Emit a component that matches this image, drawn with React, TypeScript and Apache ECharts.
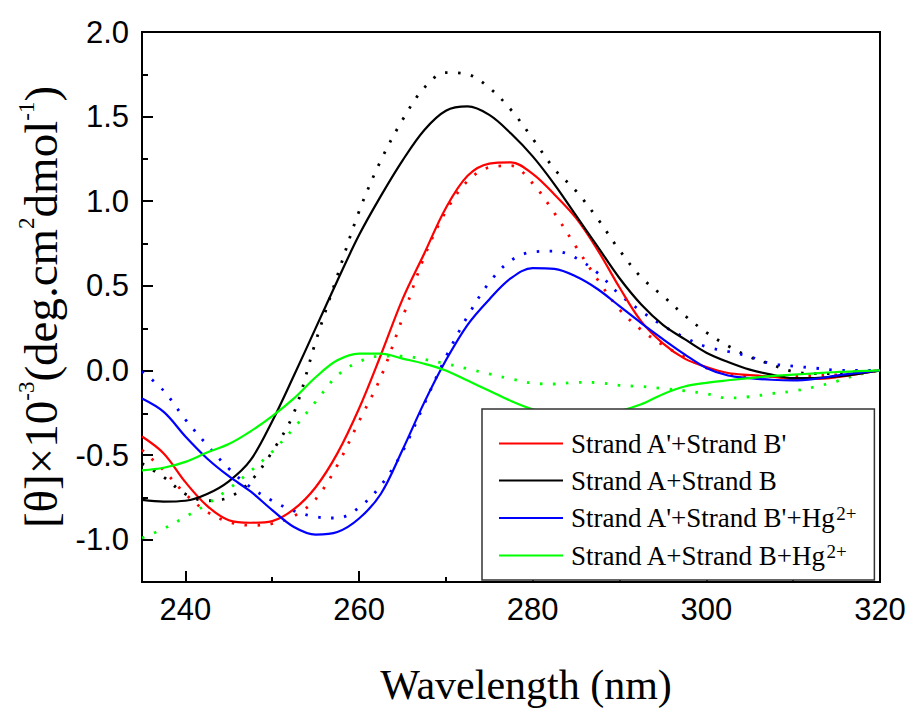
import React, { useEffect, useRef } from "react";
import * as echarts from "echarts";

const wavelengths = [235, 237.5, 240, 242.5, 245, 247.5, 250, 252.5, 255, 257.5, 260, 262.5, 265, 267.5, 270, 272.5, 275, 277.5, 280, 282.5, 285, 287.5, 290, 292.5, 295, 297.5, 300, 302.5, 305, 307.5, 310, 312.5, 315, 317.5, 320];

const redSolid = [-0.39, -0.49, -0.66, -0.8, -0.885, -0.9, -0.89, -0.82, -0.69, -0.49, -0.225, 0.09, 0.42, 0.69, 0.96, 1.15, 1.222, 1.23, 1.162, 1.04, 0.9, 0.71, 0.49, 0.29, 0.16, 0.07, 0.02, -0.015, -0.027, -0.037, -0.05, -0.05, -0.04, -0.02, 0];
const redDotted = [-0.47, -0.59, -0.73, -0.835, -0.895, -0.915, -0.905, -0.86, -0.76, -0.56, -0.3, -0.04, 0.31, 0.67, 0.94, 1.12, 1.2, 1.21, 1.105, 0.93, 0.73, 0.535, 0.36, 0.24, 0.15, 0.08, 0.015, -0.02, -0.032, -0.035, -0.034, -0.03, -0.026, -0.015, 0];
const blackSolid = [-0.765, -0.775, -0.77, -0.73, -0.655, -0.53, -0.3, -0.03, 0.25, 0.53, 0.8, 1.03, 1.24, 1.42, 1.535, 1.56, 1.51, 1.4, 1.265, 1.1, 0.915, 0.73, 0.545, 0.39, 0.27, 0.185, 0.105, 0.05, 0.005, -0.025, -0.045, -0.045, -0.035, -0.02, 0];
const blackDotted = [-0.55, -0.63, -0.73, -0.77, -0.75, -0.655, -0.48, -0.25, 0.17, 0.56, 0.94, 1.24, 1.48, 1.67, 1.76, 1.75, 1.67, 1.54, 1.37, 1.19, 1.06, 0.895, 0.71, 0.55, 0.44, 0.325, 0.225, 0.145, 0.08, 0.035, -0.007, -0.019, -0.017, -0.008, 0];
const blueSolid = [-0.166, -0.245, -0.39, -0.52, -0.625, -0.715, -0.825, -0.925, -0.97, -0.955, -0.875, -0.73, -0.47, -0.19, 0.06, 0.27, 0.42, 0.545, 0.605, 0.6, 0.555, 0.48, 0.38, 0.28, 0.185, 0.095, 0.015, -0.03, -0.045, -0.055, -0.059, -0.05, -0.03, -0.014, 0];
const blueDotted = [-0.005, -0.12, -0.29, -0.44, -0.58, -0.69, -0.77, -0.83, -0.865, -0.872, -0.81, -0.68, -0.48, -0.2, 0.08, 0.32, 0.52, 0.65, 0.7, 0.705, 0.665, 0.575, 0.45, 0.35, 0.265, 0.195, 0.14, 0.112, 0.082, 0.04, 0.026, 0.014, 0.002, 0, 0];
const greenSolid = [-0.59, -0.575, -0.54, -0.485, -0.435, -0.36, -0.27, -0.165, -0.04, 0.06, 0.1, 0.1, 0.07, 0.04, 0.0, -0.06, -0.12, -0.18, -0.23, -0.265, -0.275, -0.265, -0.24, -0.2, -0.14, -0.095, -0.073, -0.058, -0.045, -0.033, -0.025, -0.017, -0.009, -0.004, 0];
const greenDotted = [-0.99, -0.935, -0.865, -0.79, -0.7, -0.595, -0.48, -0.34, -0.185, -0.03, 0.052, 0.085, 0.085, 0.065, 0.04, 0.01, -0.02, -0.05, -0.075, -0.08, -0.07, -0.072, -0.088, -0.095, -0.106, -0.12, -0.138, -0.163, -0.155, -0.137, -0.122, -0.097, -0.064, -0.025, 0];

const xMajorTicks = [240, 260, 280, 300, 320];
const xMinorTicks = [250, 270, 290, 310];
const yMajorTicks = [-1.0, -0.5, 0, 0.5, 1.0, 1.5, 2.0];
const yMinorTicks = [-0.75, -0.25, 0.25, 0.75, 1.25, 1.75];

const legendNames = ["Strand A'+Strand B'", "Strand A+Strand B", "Strand A'+Strand B'+Hg2+", "Strand A+Strand B+Hg2+"];
const seriesColors = ["#ff0000", "#000000", "#0000ff", "#00ff00"];
const solidValues = [redSolid, blackSolid, blueSolid, greenSolid];
const dottedValues = [redDotted, blackDotted, blueDotted, greenDotted];

const SERIF = "Liberation Serif";
const SANS = "Liberation Sans";

const pairs = (vals: number[]) => wavelengths.map((w, i) => [w, vals[i]]);

export default function App() {
  const ref = useRef<HTMLDivElement>(null);
  useEffect(() => {
    if (!ref.current) return;
    const chart = echarts.init(ref.current, null, { renderer: "svg" });
    const gridPos = { left: 142, right: 31, top: 32, bottom: 128 };
    const dotted = dottedValues.map((vals, i) => ({
      name: legendNames[i] + " (dotted)",
      type: "line",
      xAxisIndex: 0,
      yAxisIndex: 0,
      data: pairs(vals),
      symbol: "none",
      showSymbol: false,
      smooth: 0.35,
      lineStyle: { color: seriesColors[i], width: 2.8, type: [2.5, 10.5], cap: "butt" },
      itemStyle: { color: seriesColors[i] },
      z: 2,
    }));
    const solid = solidValues.map((vals, i) => ({
      name: legendNames[i],
      type: "line",
      xAxisIndex: 0,
      yAxisIndex: 0,
      data: pairs(vals),
      symbol: "none",
      showSymbol: false,
      smooth: 0.35,
      lineStyle: { color: seriesColors[i], width: 2.2 },
      itemStyle: { color: seriesColors[i] },
      z: 3,
    }));
    chart.setOption({
      animation: false,
      backgroundColor: "#ffffff",
      grid: [
        { ...gridPos, show: true, borderColor: "#000", borderWidth: 2, backgroundColor: "transparent" },
        { ...gridPos, show: false },
      ],
      xAxis: [
        {
          type: "value",
          gridIndex: 0,
          min: 235,
          max: 320,
          name: "Wavelength (nm)",
          nameLocation: "middle",
          nameGap: 82,
          nameTextStyle: { fontFamily: SERIF, fontSize: 42, color: "#000", padding: [0, 0, 0, 30] },
          axisLine: { show: true, onZero: false, lineStyle: { color: "#000", width: 2 } },
          axisTick: { show: true, inside: true, length: 11, customValues: xMajorTicks, lineStyle: { color: "#000", width: 2 } },
          axisLabel: { show: true, customValues: xMajorTicks, margin: 12, fontFamily: SANS, fontSize: 31, color: "#000" },
          splitLine: { show: false },
        },
        {
          type: "value",
          gridIndex: 1,
          min: 235,
          max: 320,
          axisLine: { show: false, onZero: false },
          axisTick: { show: true, inside: true, length: 6, customValues: xMinorTicks, lineStyle: { color: "#000", width: 2 } },
          axisLabel: { show: false, customValues: xMinorTicks },
          splitLine: { show: false },
        },
      ],
      yAxis: [
        {
          type: "value",
          gridIndex: 0,
          min: -1.25,
          max: 2.0,
          name: "{t|[θ]×10}{sup|-3}{t|(deg.cm}{sup|2}{t|dmol}{sup|-1}{t|)}",
          nameLocation: "middle",
          nameRotate: 90,
          nameGap: 74,
          nameTextStyle: {
            fontFamily: SERIF,
            fontSize: 47,
            color: "#000",
            rich: {
              t: { fontFamily: SERIF, fontSize: 47, lineHeight: 52, color: "#000" },
              sup: { fontFamily: SERIF, fontSize: 23, lineHeight: 14, verticalAlign: "top", color: "#000" },
            },
          },
          axisLine: { show: true, onZero: false, lineStyle: { color: "#000", width: 2 } },
          axisTick: { show: true, inside: true, length: 11, customValues: yMajorTicks, lineStyle: { color: "#000", width: 2 } },
          axisLabel: {
            show: true,
            customValues: yMajorTicks,
            margin: 13,
            fontFamily: SANS,
            fontSize: 31,
            color: "#000",
            formatter: (v: number) => v.toFixed(1),
          },
          splitLine: { show: false },
        },
        {
          type: "value",
          gridIndex: 1,
          min: -1.25,
          max: 2.0,
          axisLine: { show: false, onZero: false },
          axisTick: { show: true, inside: true, length: 6, customValues: yMinorTicks, lineStyle: { color: "#000", width: 2 } },
          axisLabel: { show: false, customValues: yMinorTicks },
          splitLine: { show: false },
        },
      ],
      legend: {
        show: true,
        data: legendNames,
        orient: "vertical",
        left: 482,
        top: 409,
        padding: [21, 18, 11, 17],
        itemGap: 10,
        itemWidth: 64,
        itemHeight: 2.2,
        icon: "rect",
        backgroundColor: "#ffffff",
        borderColor: "#333",
        borderWidth: 1.5,
        borderRadius: 0,
        selectedMode: false,
        formatter: (name: string) => {
          const m = name.match(/^(.*)\+Hg2\+$/);
          if (m) return `{t|${m[1]}+Hg}{sup|2+}`;
          return `{t|${name}}`;
        },
        textStyle: {
          fontFamily: SERIF,
          fontSize: 27,
          color: "#000",
          padding: [0, 0, 0, 3],
          rich: {
            t: { fontFamily: SERIF, fontSize: 27, lineHeight: 28, color: "#000" },
            sup: { fontFamily: SERIF, fontSize: 19, lineHeight: 14, verticalAlign: "top", color: "#000" },
          },
        },
      },
      series: [...dotted, ...solid],
    });
    return () => chart.dispose();
  }, []);
  return (
    <div
      ref={ref}
      style={{ position: "absolute", left: 0, top: 0, width: 911, height: 711, background: "#fff" }}
    />
  );
}
